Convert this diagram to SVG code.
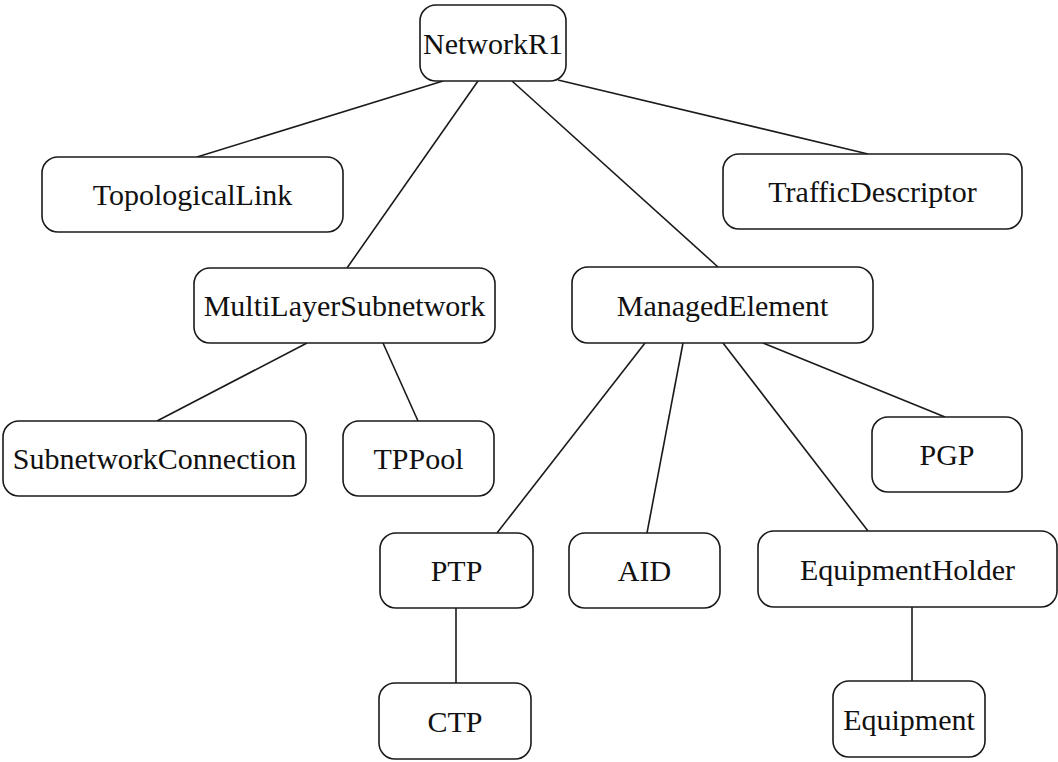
<svg xmlns="http://www.w3.org/2000/svg" width="1058" height="762" viewBox="0 0 1058 762">
  <style>
    .box { fill: #ffffff; stroke: #1a1a1a; stroke-width: 1.6; }
    .lbl { font-family: "Liberation Serif", "Times New Roman", serif; font-size: 30px; fill: #111111; text-anchor: middle; }
    .edge { stroke: #1a1a1a; stroke-width: 1.6; fill: none; }
  </style>
  <rect width="1058" height="762" fill="#ffffff"/>

  <!-- containment tree connectors -->
  <g id="connectors">
    <line class="edge" x1="443" y1="81" x2="197" y2="157"/>
    <line class="edge" x1="478" y1="81" x2="347" y2="268"/>
    <line class="edge" x1="512" y1="81" x2="718" y2="267"/>
    <line class="edge" x1="558" y1="80" x2="868" y2="154"/>
    <line class="edge" x1="307" y1="343" x2="157" y2="421"/>
    <line class="edge" x1="383" y1="343" x2="418" y2="421"/>
    <line class="edge" x1="645" y1="343" x2="497" y2="533"/>
    <line class="edge" x1="683" y1="343" x2="647" y2="533"/>
    <line class="edge" x1="723" y1="343" x2="868" y2="531"/>
    <line class="edge" x1="763" y1="343" x2="945" y2="417"/>
    <line class="edge" x1="456" y1="608" x2="456" y2="683"/>
    <line class="edge" x1="912" y1="607" x2="912" y2="681"/>
  </g>

  <g id="networkR1">
    <rect class="box" x="420" y="5" width="146" height="76" rx="16"/>
    <text class="lbl" x="493" y="54">NetworkR1</text>
  </g>
  <g id="topologicalLink">
    <rect class="box" x="42" y="157" width="301" height="75" rx="16"/>
    <text class="lbl" x="192.5" y="205">TopologicalLink</text>
  </g>
  <g id="trafficDescriptor">
    <rect class="box" x="723" y="154" width="299" height="75" rx="16"/>
    <text class="lbl" x="872.5" y="202">TrafficDescriptor</text>
  </g>
  <g id="multiLayerSubnetwork">
    <rect class="box" x="194" y="268" width="301" height="75" rx="16"/>
    <text class="lbl" x="344.5" y="316">MultiLayerSubnetwork</text>
  </g>
  <g id="managedElement">
    <rect class="box" x="572" y="267" width="301" height="76" rx="16"/>
    <text class="lbl" x="722.5" y="316">ManagedElement</text>
  </g>
  <g id="subnetworkConnection">
    <rect class="box" x="3" y="421" width="303" height="75" rx="16"/>
    <text class="lbl" x="154.5" y="469">SubnetworkConnection</text>
  </g>
  <g id="tpPool">
    <rect class="box" x="343" y="421" width="151" height="75" rx="16"/>
    <text class="lbl" x="418.5" y="469">TPPool</text>
  </g>
  <g id="pgp">
    <rect class="box" x="872" y="417" width="150" height="75" rx="16"/>
    <text class="lbl" x="947" y="465">PGP</text>
  </g>
  <g id="ptp">
    <rect class="box" x="380" y="533" width="153" height="75" rx="16"/>
    <text class="lbl" x="456.5" y="581">PTP</text>
  </g>
  <g id="aid">
    <rect class="box" x="569" y="533" width="151" height="75" rx="16"/>
    <text class="lbl" x="644.5" y="581">AID</text>
  </g>
  <g id="equipmentHolder">
    <rect class="box" x="758" y="531" width="299" height="76" rx="16"/>
    <text class="lbl" x="907.5" y="580">EquipmentHolder</text>
  </g>
  <g id="ctp">
    <rect class="box" x="379" y="683" width="152" height="76" rx="16"/>
    <text class="lbl" x="455" y="732">CTP</text>
  </g>
  <g id="equipment">
    <rect class="box" x="833" y="681" width="152" height="76" rx="16"/>
    <text class="lbl" x="909" y="730">Equipment</text>
  </g>
</svg>
